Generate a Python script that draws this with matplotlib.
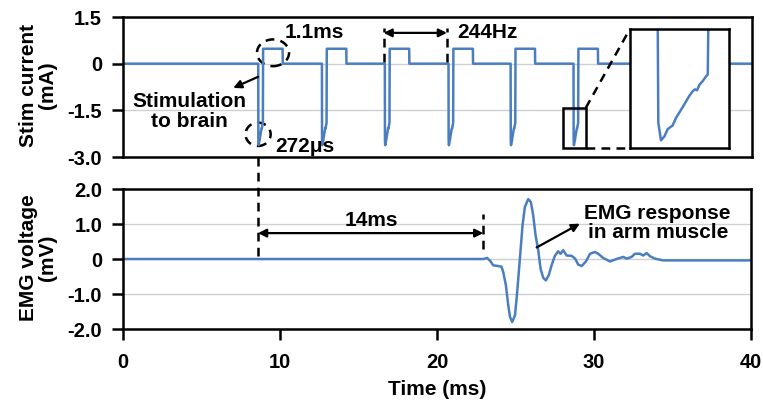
import matplotlib
matplotlib.use("Agg")
import matplotlib.pyplot as plt
from matplotlib.patches import Ellipse, Rectangle

plt.rcParams['font.family'] = ['Liberation Sans', 'DejaVu Sans']
plt.rcParams['font.weight'] = 'bold'

# ---------------- data ----------------
x_ticks = [0, 10, 20, 30, 40]
stim_yticks = [-3.0, -1.5, 0, 1.5]
stim_yticklabels = ["-3.0", "-1.5", "0", "1.5"]
emg_yticks = [-2.0, -1.0, 0, 1.0, 2.0]
emg_yticklabels = ["-2.0", "-1.0", "0", "1.0", "2.0"]

# stimulation pulse onsets (ms)
pulse_onsets = [8.6, 12.65, 16.65, 20.7, 24.65, 28.65]
# pulse waveform relative to onset: time (ms), current (mA)
pulse_shape_t = [0.0, 0.0075, 0.023, 0.0425, 0.062, 0.091, 0.110, 0.140, 0.169,
                 0.188, 0.208, 0.221, 0.233, 0.247, 0.266, 0.285, 0.295, 0.310,
                 1.55, 1.56]
pulse_shape_v = [0.0, -2.43, -2.62, -2.58, -2.50, -2.46, -2.38, -2.29, -2.20,
                 -2.14, -2.09, -2.07, -2.08, -2.02, -1.98, -1.93, -1.91, 0.48,
                 0.48, 0.0]

# EMG trace (ms, mV)
emg_t = [0.0, 22.1, 22.95, 23.2, 23.42, 23.58, 23.90, 24.11, 24.22, 24.39, 24.54,
         24.65, 24.79, 24.97, 25.11, 25.28, 25.45, 25.60, 25.81, 25.98, 26.13,
         26.28, 26.45, 26.60, 26.77, 26.94, 27.13, 27.30, 27.51, 27.72, 27.87,
         28.04, 28.26, 28.58, 28.80, 29.00, 29.22, 29.49, 29.75, 30.06, 30.27,
         30.59, 31.02, 31.44, 31.87, 32.08, 32.40, 32.61, 32.93, 33.14, 33.36,
         33.57, 33.89, 34.40, 40.0]
emg_v = [0.0, 0.0, 0.0, 0.03, -0.07, -0.18, -0.20, -0.22, -0.37, -0.75, -1.32,
         -1.65, -1.80, -1.61, -0.94, 0.0, 0.96, 1.49, 1.71, 1.63, 1.25,
         0.68, 0.25, -0.28, -0.54, -0.61, -0.45, -0.18, 0.09, 0.22, 0.15,
         0.25, 0.10, 0.09, 0.01, -0.16, -0.20, -0.07, 0.15, 0.20, 0.15,
         0.03, -0.07, 0.0, 0.06, 0.01, 0.06, 0.15, 0.15, 0.10, 0.17,
         0.08, 0.01, -0.04, -0.04]

# build stim trace from onsets and pulse shape
stim_t = [0.0]
stim_v = [0.0]
for t0 in pulse_onsets:
    for dt, v in zip(pulse_shape_t, pulse_shape_v):
        stim_t.append(t0 + dt)
        stim_v.append(v)
stim_t.append(40.0)
stim_v.append(0.0)

# ---------------- style ----------------
blue = "#4a7ec0"
lw_trace = 1.8
spine_w = 1.8
fs_tick = 14.5
fs_label = 15
fs_text = 15

fig = plt.figure(figsize=(7.63, 4.03), dpi=100)
ax1 = fig.add_axes([0.1612, 0.6104, 0.8244, 0.3474])
ax2 = fig.add_axes([0.1612, 0.1836, 0.8230, 0.3474])

for ax in (ax1, ax2):
    for s in ax.spines.values():
        s.set_linewidth(spine_w)
    ax.set_xlim(0, 40)
    ax.tick_params(axis='both', direction='out', length=8, width=spine_w,
                   labelsize=fs_tick)
    ax.tick_params(axis='y', pad=7)
    ax.tick_params(axis='x', pad=9)
    ax.grid(axis='y', color='#d0d0d0', linewidth=1.0)
    ax.set_axisbelow(True)

# top: stim current
ax1.plot(stim_t, stim_v, color=blue, lw=lw_trace)
ax1.set_ylim(-3.0, 1.5)
ax1.set_yticks(stim_yticks)
ax1.set_yticklabels(stim_yticklabels)
ax1.set_xticks(x_ticks)
ax1.tick_params(axis='x', bottom=False, labelbottom=False)
ax1.set_ylabel("Stim current\n(mA)", fontsize=fs_label, fontweight='bold',
               linespacing=1.0)
ax1.yaxis.set_label_coords(-0.105, 0.51)

# bottom: EMG
ax2.plot(emg_t, emg_v, color=blue, lw=lw_trace)
ax2.set_ylim(-2.0, 2.0)
ax2.set_yticks(emg_yticks)
ax2.set_yticklabels(emg_yticklabels)
ax2.set_xticks(x_ticks)
ax2.set_xticklabels([str(v) for v in x_ticks])
ax2.set_ylabel("EMG voltage\n(mV)", fontsize=fs_label, fontweight='bold',
               linespacing=1.0)
ax2.yaxis.set_label_coords(-0.105, 0.507)
ax2.set_xlabel("Time (ms)", fontsize=fs_label, fontweight='bold', labelpad=6)

dash = dict(color='black', lw=1.8, linestyle=(0, (3.5, 2.5)))

# ---- annotations top ----
ax1.add_patch(Ellipse((9.54, 0.35), 2.04, 0.86, fill=False, clip_on=False, **dash))
ax1.add_patch(Ellipse((8.59, -2.27), 1.6, 0.75, fill=False, clip_on=False, **dash))
ax1.text(10.3, 0.99, "1.1ms", fontsize=fs_text, fontweight='bold', ha='left', va='center')
ax1.text(9.67, -2.65, "272μs", fontsize=fs_text, fontweight='bold', ha='left', va='center')
ax1.text(4.2, -1.53, "Stimulation\nto brain", fontsize=fs_text, fontweight='bold',
         ha='center', va='center', linespacing=1.05)
ax1.annotate("", xy=(7.01, -0.78), xytext=(8.6, -0.42),
             arrowprops=dict(arrowstyle='-|>', color='black', lw=1.6,
                             mutation_scale=12, shrinkA=0, shrinkB=0))
# 244 Hz
for tx in (16.57, 20.6):
    ax1.plot([tx, tx], [0.05, 1.15], **dash)
ax1.annotate("", xy=(20.6, 0.99), xytext=(16.57, 0.99),
             arrowprops=dict(arrowstyle='<|-|>', color='black', lw=1.6,
                             mutation_scale=12, shrinkA=0, shrinkB=0))
ax1.text(21.27, 0.99, "244Hz", fontsize=fs_text, fontweight='bold', ha='left', va='center')

# zoom box and inset
ax1.add_patch(Rectangle((27.98, -2.7), 1.45, 1.28, fill=False, ec='black', lw=spine_w,
                        clip_on=False, zorder=5))
axin = ax1.inset_axes([32.23, -2.7, 6.29, 3.81], transform=ax1.transData)
axin.plot(stim_t, stim_v, color=blue, lw=lw_trace)
axin.set_xlim(pulse_onsets[-1] - 0.158, pulse_onsets[-1] + 0.417)
axin.set_ylim(-2.7, -1.42)
axin.set_xticks([])
axin.set_yticks([])
for s in axin.spines.values():
    s.set_linewidth(spine_w)
ax1.plot([29.43, 32.23], [-1.42, 1.11], clip_on=False, **dash)
ax1.plot([29.43, 32.23], [-2.7, -2.7], clip_on=False, **dash)

# ---- annotations bottom ----
ax2.plot([8.6, 8.6], [0.1, 3.1], clip_on=False, **dash)
ax2.plot([22.95, 22.95], [0.3, 1.3], **dash)
ax2.annotate("", xy=(22.95, 0.74), xytext=(8.6, 0.74),
             arrowprops=dict(arrowstyle='<|-|>', color='black', lw=1.6,
                             mutation_scale=12, shrinkA=0, shrinkB=0))
ax2.text(15.8, 1.1, "14ms", fontsize=fs_text, fontweight='bold', ha='center', va='center')
ax2.text(34.06, 1.03, "EMG response\nin arm muscle", fontsize=fs_text, fontweight='bold',
         ha='center', va='center', linespacing=1.0)
ax2.annotate("", xy=(29.1, 1.01), xytext=(26.35, 0.33),
             arrowprops=dict(arrowstyle='-|>', color='black', lw=1.6,
                             mutation_scale=12, shrinkA=0, shrinkB=0))

fig.savefig("out.png", dpi=100)
